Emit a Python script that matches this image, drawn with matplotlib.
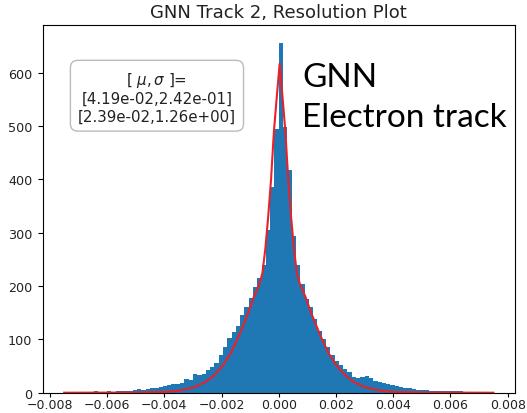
import numpy as np
import matplotlib
matplotlib.use("Agg")
import matplotlib.pyplot as plt

# histogram of track resolution, 100 bins between -0.0075 and 0.0075
bin_lo, bin_hi, n_bins = -0.0075, 0.0075, 100
counts = [1, 0, 1, 1, 1, 2, 1, 3, 1, 2,
          3, 2, 3, 3, 4, 4, 5, 7, 6, 7,
          8, 9, 11, 13, 15, 16, 17, 19, 26, 24,
          35, 33, 36, 43, 48, 55, 70, 86, 102, 113,
          125, 145, 160, 178, 198, 215, 240, 306, 385, 495,
          656, 498, 418, 294, 239, 204, 176, 160, 138, 116,
          100, 85, 71, 60, 52, 45, 39, 30, 27, 30,
          31, 27, 22, 20, 18, 16, 14, 12, 11, 9,
          8, 7, 6, 5, 5, 4, 4, 3, 3, 4,
          4, 3, 3, 2, 2, 2, 1, 1, 1, 1]

# double gaussian fit curve
fit_x = [-0.0075, -0.00497, -0.00397, -0.00347, -0.00297, -0.00257, -0.00227,
         -0.00197, -0.00167, -0.00137, -0.00107, -0.00087, -0.00067, -0.00057,
         -0.00047, -0.00037, -0.00027, -0.00017, -0.00007, 0.00003, 0.00013,
         0.00023, 0.00033, 0.00043, 0.00053, 0.00063, 0.00073, 0.00093,
         0.00113, 0.00143, 0.00173, 0.00203, 0.00233, 0.00263, 0.00303,
         0.00353, 0.00403, 0.00503, 0.0075]
fit_y = [0, 0.3, 1.5, 4, 10, 20, 32, 50, 75, 110, 150, 180, 205, 225, 270,
         330, 400, 490, 555, 617, 555, 490, 400, 330, 270, 225, 205, 180,
         150, 110, 75, 50, 32, 20, 10, 4, 1.5, 0.3, 0]

fit_params = [(4.19e-02, 2.42e-01), (2.39e-02, 1.26e+00)]

edges = np.linspace(bin_lo, bin_hi, n_bins + 1)
centers = 0.5 * (edges[:-1] + edges[1:])

fig = plt.figure(figsize=(5.27, 4.14), dpi=100)
ax = fig.add_axes([0.081, 0.049, 0.896, 0.887])

ax.hist(centers, bins=edges, weights=counts, color='#1f77b4')
ax.plot(fit_x, fit_y, color='#e8222a', lw=1.5)

ax.set_title("GNN Track 2, Resolution Plot", fontsize=13, color='#222222')
ax.tick_params(labelcolor='#222222')
ax.tick_params(axis='x', pad=1, length=3, labelsize=9)
ax.tick_params(axis='y', pad=4, labelsize=9.2)
for lab in ax.get_yticklabels():
    lab.set_va('center_baseline')

txt = "[ $\\mu,\\sigma$ ]=\n" + "\n".join(
    "[{:.2e},{:.2e}]".format(m, s) for m, s in fit_params)
ax.text(0.242, 0.806, txt, transform=ax.transAxes, fontsize=10.8,
        ha='center', va='center', color='#222222',
        bbox=dict(boxstyle='round,pad=0.5', facecolor='white',
                  edgecolor='#aaaaaa', alpha=0.8))

# annotation in the upper right
fig.text(0.573, 1 - 87 / 414, "GNN", fontsize=24, family='Lato',
         va='baseline', ha='left')
fig.text(0.573, 1 - 127 / 414, "Electron track", fontsize=24, family='Lato',
         va='baseline', ha='left')

fig.savefig("out.png", dpi=100)
